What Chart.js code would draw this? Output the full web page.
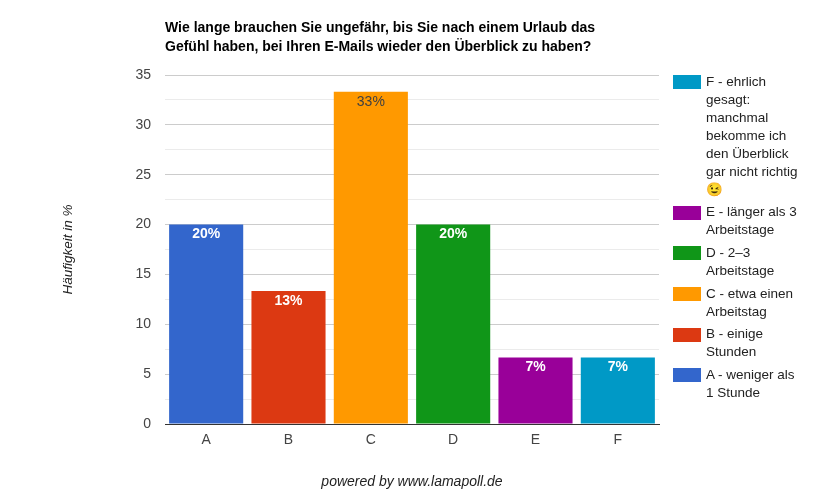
<!DOCTYPE html>
<html>
<head>
<meta charset="utf-8">
<script src="https://cdn.jsdelivr.net/npm/chart.js@4/dist/chart.umd.min.js"></script>
<style>
  html, body { margin: 0; padding: 0; background: #fff; }
  #wrap { position: relative; width: 823px; height: 500px; }
  #legend { position: absolute; left: 673px; top: 72.7px; font-family: Arial, "Liberation Sans", sans-serif; font-size: 13.5px; color: #222; }
  .item { display: flex; align-items: flex-start; margin-bottom: 4.7px; }
  .sw { width: 28px; height: 14px; margin-top: 2.3px; margin-right: 5px; flex: none; }
  .txt { width: 98px; line-height: 18px; }
</style>
</head>
<body>
<div id="wrap">
  <canvas id="c" width="823" height="500"></canvas>
  <div id="legend"></div>
</div>
<script>
const categories = ['A', 'B', 'C', 'D', 'E', 'F'];
const seriesLabels = [
  'A - weniger als 1 Stunde',
  'B - einige Stunden',
  'C - etwa einen Arbeitstag',
  'D - 2–3 Arbeitstage',
  'E - länger als 3 Arbeitstage',
  'F - ehrlich gesagt: manchmal bekomme ich den Überblick gar nicht richtig 😉'
];
const values = [20, 13.33, 33.33, 20, 6.67, 6.67];
const valueLabels = ['20%', '13%', '33%', '20%', '7%', '7%'];
const yTicks = [0, 5, 10, 15, 20, 25, 30, 35];
const titleLines = [
  'Wie lange brauchen Sie ungefähr, bis Sie nach einem Urlaub das',
  'Gefühl haben, bei Ihren E-Mails wieder den Überblick zu haben?'
];
const yAxisTitle = 'Häufigkeit in %';
const footerText = 'powered by www.lamapoll.de';

const colors = ['#3366cc', '#dc3912', '#ff9900', '#109618', '#990099', '#0099c6'];
const labelStyles = [
  { color: '#ffffff', weight: 'bold' },
  { color: '#ffffff', weight: 'bold' },
  { color: '#404040', weight: 'normal' },
  { color: '#ffffff', weight: 'bold' },
  { color: '#ffffff', weight: 'bold' },
  { color: '#ffffff', weight: 'bold' }
];
const FONT = 'Arial, "Liberation Sans", sans-serif';

const datasets = seriesLabels.map((lab, i) => ({
  label: lab,
  data: categories.map((c, j) => (j === i ? values[i] : null)),
  backgroundColor: colors[i],
  borderWidth: 0,
  categoryPercentage: 0.9,
  barPercentage: 1.0
}));

const valueLabelPlugin = {
  id: 'valueLabels',
  afterDatasetsDraw(chart) {
    const ctx = chart.ctx;
    ctx.save();
    ctx.textAlign = 'center';
    ctx.textBaseline = 'middle';
    chart.data.datasets.forEach((ds, i) => {
      const meta = chart.getDatasetMeta(i);
      const el = meta.data[i];
      if (!el) return;
      const st = labelStyles[i];
      ctx.font = st.weight + ' 14px ' + FONT;
      ctx.fillStyle = st.color;
      ctx.fillText(valueLabels[i], el.x, el.y + 10);
    });
    ctx.restore();
  }
};

const chart = new Chart(document.getElementById('c'), {
  type: 'bar',
  data: { labels: categories, datasets },
  options: {
    responsive: false,
    animation: false,
    layout: { padding: { left: 0, right: 164, top: 0, bottom: 0 } },
    plugins: {
      legend: { display: false },
      tooltip: { enabled: false },
      title: {
        display: true,
        text: titleLines,
        align: 'start',
        fullSize: false,
        color: '#000',
        font: { family: FONT, size: 14, weight: 'bold', lineHeight: '19px' },
        padding: { top: 18.5, bottom: 18.5 }
      },
      subtitle: {
        display: true,
        text: footerText,
        position: 'bottom',
        fullSize: false,
        color: '#222',
        font: { family: FONT, size: 14, style: 'italic', lineHeight: '16px' },
        padding: { top: 0, bottom: 10 }
      }
    },
    scales: {
      x: {
        stacked: true,
        grid: { display: false, drawTicks: false },
        border: { display: true, color: '#333333', width: 1 },
        ticks: { color: '#444', font: { family: FONT, size: 14 }, padding: 8 },
        afterFit(scale) { scale.height = 50; }
      },
      y: {
        stacked: true,
        min: 0,
        max: 35,
        afterBuildTicks(scale) {
          const t = [];
          for (let k = 0; k < yTicks.length; k++) {
            t.push({ value: yTicks[k] });
            if (k < yTicks.length - 1) t.push({ value: (yTicks[k] + yTicks[k + 1]) / 2 });
          }
          scale.ticks = t;
        },
        grid: {
          drawTicks: false,
          color(ctx) {
            if (!ctx.tick) return 'transparent';
            if (ctx.tick.value === 0) return 'transparent';
            return yTicks.includes(ctx.tick.value) ? '#cccccc' : '#ebebeb';
          }
        },
        border: { display: false },
        ticks: {
          color: '#444',
          font: { family: FONT, size: 14 },
          padding: 14,
          callback(v) { return yTicks.includes(v) ? String(v) : ''; }
        },
        title: {
          display: true,
          text: yAxisTitle,
          color: '#222',
          font: { family: FONT, size: 13.5, style: 'italic', lineHeight: '16px' },
          padding: { top: 60, bottom: 0 }
        },
        afterFit(scale) { scale.width = 165; }
      }
    }
  },
  plugins: [valueLabelPlugin]
});

// HTML legend (reverse order like the reference), built from the chart's datasets
const legend = document.getElementById('legend');
chart.data.datasets.slice().reverse().forEach(ds => {
  const item = document.createElement('div');
  item.className = 'item';
  const sw = document.createElement('div');
  sw.className = 'sw';
  sw.style.background = ds.backgroundColor;
  const tx = document.createElement('div');
  tx.className = 'txt';
  tx.textContent = ds.label;
  item.appendChild(sw);
  item.appendChild(tx);
  legend.appendChild(item);
});
</script>
</body>
</html>
